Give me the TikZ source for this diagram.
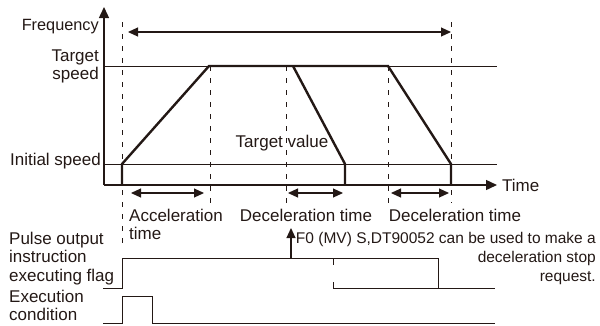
\documentclass[tikz,border=0pt]{standalone}
\usepackage{fontspec}
\setmainfont{Liberation Sans}
\usetikzlibrary{arrows.meta,positioning,calc}
\definecolor{inkblack}{RGB}{35,24,21}

\begin{document}
\begin{tikzpicture}[
  x=1pt,y=-1pt,
  font=\fontsize{17}{18.8}\selectfont,
  lbl/.style={inner sep=0pt,text=inkblack},
  thin/.style={draw=inkblack,line width=0.9pt},
  axis/.style={draw=inkblack,line width=1.4pt,-{Triangle[length=11pt,width=10pt]}},
  prof/.style={draw=inkblack,line width=2.4pt,line join=miter},
  guide/.style={draw=inkblack,line width=0.9pt,dash pattern=on 5pt off 7pt},
  span/.style={draw=inkblack,line width=1.1pt,{Triangle[length=10pt,width=9pt]}-{Triangle[length=10pt,width=9pt]}},
  up/.style={draw=inkblack,line width=1.1pt,-{Triangle[length=10pt,width=9pt]}}
]
\useasboundingbox (0,0) rectangle (600,325);

\coordinate (o) at (104,185);
\coordinate (fq) at (104,7);
\coordinate (tm) at (497,185);
\coordinate (ts0) at (104,66);
\coordinate (ts1) at (497,66);
\coordinate (is0) at (104,164);
\coordinate (is1) at (497,164);

\node[lbl,anchor=east,font=\fontsize{16.3}{18.8}\selectfont] (freq) at (99,27) {Frequency};
\node[lbl,anchor=east,align=right] (tspd) at (99,66.5) {Target\\speed};
\node[lbl,anchor=east] (ispd) at (101,161) {Initial speed};
\node[lbl,anchor=west] (time) at (502,185) {Time};
\node[lbl] (tval) at (282,143) {Target value};

\draw[thin] (ts0)--(ts1);
\draw[thin] (is0)--(is1);
\draw[axis] (o)--(fq);
\draw[axis] (o)--(tm);

\draw[guide] (122,22)--(122,248);
\draw[guide] (210,66)--(210,203);
\draw[guide] (286,66)--(286,203);
\draw[guide] (388,66)--(388,203);
\draw[guide] (451,22)--(451,203);

\draw[prof] (122,185)--(122,164)--(209,66)--(388,66)--(451,164)--(451,185);
\draw[prof] (293,66)--(345,164)--(345,185);

\draw[span] (128,32)--(451,32);
\draw[span] (131,193)--(204,193);
\draw[span] (288,193)--(343,193);
\draw[span] (391,193)--(449,193);

\node[lbl,anchor=west,align=left] (acc) at (129,224.5) {Acceleration\\time};
\node[lbl] (dec1) at (306,215) {Deceleration time};
\node[lbl] (dec2) at (455,215) {Deceleration time};

\node[lbl,anchor=west,align=left] (flag) at (9,258.5) {Pulse output\\instruction\\executing flag};
\node[lbl,anchor=west,align=left] (cond) at (9,305.5) {Execution\\condition};
\node[lbl,anchor=east,align=right,font=\fontsize{15.5}{18.6}\selectfont] (note) at (596,258.5) {F0 (MV) S,DT90052 can be used to make a\\deceleration stop\\request.};

\draw[thin] (103,288)-|(122,258)-|(438,288)--(495,288);
\draw[thin] (333,288)--(438,288);
\draw[thin,dash pattern=on 7pt off 17pt] (333,258)--(333,288);
\draw[up] (291,258)--(291,228);

\draw[thin] (103,323)-|(122,296)-|(152,323)--(495,323);
\end{tikzpicture}
\end{document}
